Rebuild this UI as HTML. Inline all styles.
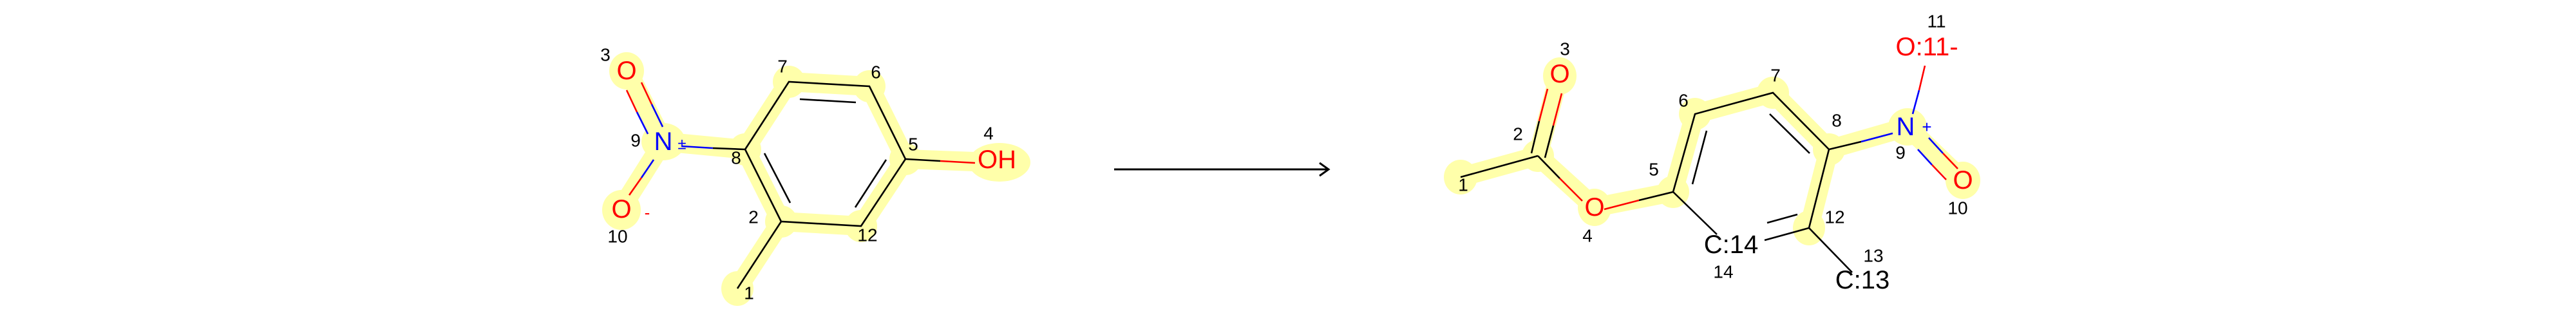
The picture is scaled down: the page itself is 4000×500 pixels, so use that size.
<!DOCTYPE html>
<html><head><meta charset="utf-8"><style>
html,body{margin:0;padding:0;background:#fff;}
svg{display:block;}
text{font-family:"Liberation Sans",sans-serif;}
.n{font-size:28px;fill:#000;text-anchor:middle;dominant-baseline:central;}
.a{font-size:40px;text-anchor:middle;dominant-baseline:central;}
</style></head><body>
<svg width="4000" height="500" viewBox="0 0 4000 500" xmlns="http://www.w3.org/2000/svg">
<g stroke="#ffffaa" stroke-width="30" stroke-linecap="round" fill="none">
<path d="M1145,448 L1213,344 L1337,351 L1406,247 L1350,134 L1225,127 L1157,232 L1213,344"/>
<path d="M1406,247 L1540,252"/>
<path d="M1157,232 L1030,220 L973,107 M1030,220 L965,323"/>
<path d="M2268,275 L2388,242 L2422,113 M2388,242 L2476,322 L2598,298 L2632,177 L2753,144 L2840,232 L2962,197 L3048,280 M2840,232 L2809,354"/>
</g>
<g fill="#ffffaa">
<ellipse cx="1145" cy="448" rx="25" ry="27"/><ellipse cx="1213" cy="344" rx="25" ry="25"/>
<ellipse cx="1337" cy="351" rx="25" ry="25"/><ellipse cx="1406" cy="247" rx="25" ry="25"/>
<ellipse cx="1350" cy="134" rx="25" ry="25"/><ellipse cx="1225" cy="127" rx="25" ry="25"/>
<ellipse cx="1157" cy="232" rx="25" ry="25"/><ellipse cx="1030" cy="220" rx="34" ry="29"/>
<ellipse cx="973" cy="110" rx="27" ry="29"/><ellipse cx="965" cy="326" rx="30" ry="31"/>
<ellipse cx="1552" cy="252" rx="48" ry="30"/>
<ellipse cx="2268" cy="275" rx="26" ry="27"/><ellipse cx="2388" cy="242" rx="25" ry="25"/>
<ellipse cx="2422" cy="118" rx="26" ry="29"/><ellipse cx="2476" cy="322" rx="26" ry="29"/>
<ellipse cx="2598" cy="298" rx="25" ry="25"/><ellipse cx="2632" cy="177" rx="25" ry="25"/>
<ellipse cx="2753" cy="144" rx="25" ry="25"/><ellipse cx="2840" cy="232" rx="25" ry="25"/>
<ellipse cx="2962" cy="197" rx="30" ry="29"/><ellipse cx="3048" cy="280" rx="27" ry="29"/>
<ellipse cx="2809" cy="354" rx="25" ry="27"/>
</g>
<g stroke-width="2.6" stroke-linecap="butt" fill="none">
<path stroke="#000" d="M1145,448 L1213,344 L1337,351 L1406,247 L1350,134 L1225,127 L1157,232 L1213,344"/>
<path stroke="#000" d="M1242,154 L1329,159 M1187,238 L1227,315 M1376,248 L1328,322"/>
<path stroke="#000" d="M1406,247 L1460,250"/><path stroke="#f00" d="M1460,250 L1514,253"/>
<path stroke="#000" d="M1157,232 L1107,230"/><path stroke="#00f" d="M1107,230 L1058,227"/>
<path stroke="#f00" d="M996,128 L1012,162 M973,140 L989,174"/>
<path stroke="#00f" d="M1012,162 L1029,197 M989,174 L1006,208"/>
<path stroke="#00f" d="M1015,248 L996,276"/><path stroke="#f00" d="M996,276 L977,303"/>
<path stroke="#000" d="M2268,275 L2388,242 M2388,242 L2422,277"/>
<path stroke="#f00" d="M2422,277 L2457,312 M2412,195 L2425,145 M2390,188 L2403,138"/>
<path stroke="#000" d="M2412,195 L2399,245 M2390,188 L2378,238"/>
<path stroke="#f00" d="M2491,325 L2545,311"/>
<path stroke="#000" d="M2545,311 L2598,298 L2632,177 L2753,144 L2840,232 L2890,220 M2840,232 L2809,354 L2740,373 M2598,298 L2666,364 M2809,354 L2876,423"/>
<path stroke="#000" d="M2628,286 L2650,203 M2748,177 L2810,238 M2744,346 L2791,333"/>
<path stroke="#00f" d="M2890,220 L2939,207 M2970,177 L2980,140 M2995,214 L3017,238 M2978,232 L3000,256"/>
<path stroke="#f00" d="M2980,140 L2989,102 M3017,238 L3040,262 M3000,256 L3022,279"/>
<path stroke="#000" stroke-width="3" d="M1730,263 L2063,263 M2049,253 L2063,263 L2049,273"/>
</g>
<text class="a" x="973" y="110" fill="#f00">O</text>
<text class="a" x="1030" y="220" fill="#00f">N</text>
<text x="1059" y="224" fill="#00f" font-size="24" text-anchor="middle" dominant-baseline="central">±</text>
<text class="a" x="965" y="325" fill="#f00">O</text>
<text x="1005" y="330" fill="#f00" font-size="26" text-anchor="middle" dominant-baseline="central">-</text>
<text class="a" x="1548" y="248" fill="#f00">OH</text>
<text class="n" x="940" y="85">3</text><text class="n" x="1215" y="103">7</text>
<text class="n" x="1360" y="112">6</text><text class="n" x="1535" y="207">4</text>
<text class="n" x="1418" y="224">5</text><text class="n" x="987" y="218">9</text>
<text class="n" x="1143" y="245">8</text><text class="n" x="1170" y="337">2</text>
<text class="n" x="1347" y="365">12</text><text class="n" x="959" y="367">10</text>
<text class="n" x="1163" y="455">1</text>
<text class="a" x="2422" y="115" fill="#f00">O</text>
<text class="a" x="2476" y="322" fill="#f00">O</text>
<text class="a" x="2959" y="197" fill="#00f">N</text>
<text x="2992" y="197" fill="#00f" font-size="26" text-anchor="middle" dominant-baseline="central">+</text>
<text class="a" x="3048" y="280" fill="#f00">O</text>
<text class="a" x="2992" y="73" fill="#f00">O:11-</text>
<text class="a" x="2688" y="380" fill="#000">C:14</text>
<text class="a" x="2892" y="435" fill="#000">C:13</text>
<text class="n" x="2272" y="287">1</text><text class="n" x="2357" y="208">2</text>
<text class="n" x="2430" y="76">3</text><text class="n" x="2465" y="366">4</text>
<text class="n" x="2568" y="263">5</text><text class="n" x="2614" y="156">6</text>
<text class="n" x="2757" y="117">7</text><text class="n" x="2852" y="187">8</text>
<text class="n" x="2951" y="237">9</text><text class="n" x="3040" y="323">10</text>
<text class="n" x="3007" y="33">11</text><text class="n" x="2849" y="337">12</text>
<text class="n" x="2909" y="397">13</text><text class="n" x="2676" y="422">14</text>
</svg>
</body></html>
